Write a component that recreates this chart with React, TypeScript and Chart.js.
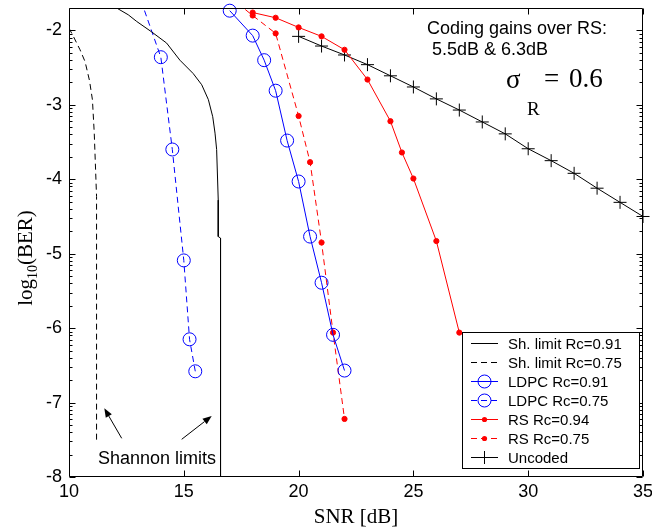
import React, { useEffect, useRef } from 'react';
import { Chart, registerables } from 'chart.js';

Chart.register(...registerables);

// ---- axes ----
const X_MIN = 10;
const X_MAX = 35;
const Y_MIN = -8;
const Y_MAX = Math.log10(0.02);
const X_TICKS = [10, 15, 20, 25, 30, 35];
const Y_TICKS = [-8, -7, -6, -5, -4, -3, -2];

// ---- series: SNR [dB] and log10(BER) ----
const SH091_SNR = [12.08, 12.58, 12.95, 13.6, 14.25, 14.83, 15.41, 15.78, 16.07, 16.26, 16.36, 16.43, 16.5, 16.5, 16.6, 16.6];
const SH091_LOGBER = [-1.7, -1.79, -1.88, -2.02, -2.17, -2.4, -2.58, -2.73, -2.93, -3.16, -3.38, -3.6, -4.28, -4.77, -4.79, -8.0];

const SH075_SNR = [10.0, 10.19, 10.48, 10.7, 10.89, 11.02, 11.1, 11.2, 11.2];
const SH075_LOGBER = [-1.97, -2.08, -2.26, -2.42, -2.67, -2.93, -3.38, -4.23, -7.55];

const LDPC091_SNR = [17, 18, 18.5, 19, 19.5, 20, 20.5, 21, 21.5, 22];
const LDPC091_LOGBER = [-1.735, -2.07, -2.4, -2.81, -3.48, -4.03, -4.77, -5.39, -6.09, -6.57];

const LDPC075_SNR = [13, 14, 14.5, 15, 15.25, 15.5];
const LDPC075_LOGBER = [-1.48, -2.36, -3.6, -5.09, -6.15, -6.58];

const RS094_SNR = [18, 19, 20, 21, 22, 23, 24, 24.5, 25, 26, 27];
const RS094_LOGBER = [-1.76, -1.83, -1.96, -2.08, -2.26, -2.66, -3.22, -3.64, -3.99, -4.83, -6.06];

const RS075_SNR = [17, 18, 19, 20, 20.5, 21, 21.5, 22];
const RS075_LOGBER = [-1.55, -1.8, -2.04, -3.15, -3.77, -4.85, -6.06, -7.22];

const UNC_SNR = [20, 21, 22, 23, 24, 25, 26, 27, 28, 29, 30, 31, 32, 33, 34, 35];
const UNC_LOGBER = [-2.08, -2.21, -2.33, -2.46, -2.61, -2.76, -2.92, -3.07, -3.23, -3.39, -3.59, -3.75, -3.92, -4.12, -4.31, -4.5];

const LEGEND_LABELS = [
  'Sh. limit Rc=0.91',
  'Sh. limit Rc=0.75',
  'LDPC Rc=0.91',
  'LDPC Rc=0.75',
  'RS Rc=0.94',
  'RS Rc=0.75',
  'Uncoded',
];

const TEXT_GAINS_1 = 'Coding gains over RS:';
const TEXT_GAINS_2 = '5.5dB & 6.3dB';
const TEXT_SHANNON = 'Shannon limits';
const X_TITLE = 'SNR [dB]';

const BLUE = '#0000ff';
const RED = '#ff0000';
const BLACK = '#000000';
const DASH = [6, 4];
const SANS = '"Liberation Sans", Arial, Helvetica, sans-serif';
const SERIF = '"Liberation Serif", "Times New Roman", Times, serif';

const pts = (xs: number[], ys: number[]) => xs.map((x, i) => ({ x, y: ys[i] }));

type Marker = 'none' | 'circle' | 'dot' | 'cross';
const MARKERS: Marker[] = ['none', 'none', 'circle', 'circle', 'dot', 'dot', 'cross'];
const COLORS = [BLACK, BLACK, BLUE, BLUE, RED, RED, BLACK];
const DASHES = [[], DASH, [], DASH, [], DASH, []];

function drawMarker(ctx: CanvasRenderingContext2D, m: Marker, color: string, x: number, y: number) {
  ctx.save();
  ctx.setLineDash([]);
  ctx.strokeStyle = color;
  ctx.fillStyle = color;
  ctx.lineWidth = 1;
  if (m === 'circle') {
    ctx.beginPath();
    ctx.arc(x, y, 6.5, 0, Math.PI * 2);
    ctx.stroke();
  } else if (m === 'dot') {
    ctx.beginPath();
    ctx.arc(x, y, 2.6, 0, Math.PI * 2);
    ctx.fill();
  } else if (m === 'cross') {
    ctx.beginPath();
    ctx.moveTo(x - 6.5, y);
    ctx.lineTo(x + 6.5, y);
    ctx.moveTo(x, y - 6.5);
    ctx.lineTo(x, y + 6.5);
    ctx.stroke();
  }
  ctx.restore();
}

function arrow(ctx: CanvasRenderingContext2D, x0: number, y0: number, x1: number, y1: number) {
  const ang = Math.atan2(y1 - y0, x1 - x0);
  const len = 9;
  const hw = 3.5;
  const bx = x1 - len * Math.cos(ang);
  const by = y1 - len * Math.sin(ang);
  ctx.beginPath();
  ctx.moveTo(x0, y0);
  ctx.lineTo(bx, by);
  ctx.stroke();
  ctx.beginPath();
  ctx.moveTo(x1, y1);
  ctx.lineTo(bx + hw * Math.sin(ang), by - hw * Math.cos(ang));
  ctx.lineTo(bx - hw * Math.sin(ang), by + hw * Math.cos(ang));
  ctx.closePath();
  ctx.fill();
}

const decor = {
  id: 'decor',
  afterDraw(chart: any) {
    const { ctx, chartArea: a } = chart;
    const xs = chart.scales.x;
    const ys = chart.scales.y;
    ctx.save();
    ctx.strokeStyle = BLACK;
    ctx.fillStyle = BLACK;
    ctx.lineWidth = 1;
    ctx.setLineDash([]);
    const L = Math.round(a.left) + 0.5;
    const R = Math.round(a.right) - 0.5;
    const T = Math.round(a.top) + 0.5;
    const B = Math.round(a.bottom) - 0.5;
    ctx.beginPath();
    ctx.rect(L, T, R - L, B - T);
    ctx.stroke();

    // x ticks (inward, bottom and top)
    ctx.beginPath();
    X_TICKS.forEach((v) => {
      const px = Math.round(xs.getPixelForValue(v)) + 0.5;
      ctx.moveTo(px, B);
      ctx.lineTo(px, B - 6);
      ctx.moveTo(px, T);
      ctx.lineTo(px, T + 6);
    });
    // y major ticks
    Y_TICKS.forEach((v) => {
      const py = Math.round(ys.getPixelForValue(v)) + 0.5;
      ctx.moveTo(L, py);
      ctx.lineTo(L + 6, py);
      ctx.moveTo(R, py);
      ctx.lineTo(R - 6, py);
    });
    // y minor (log) ticks
    Y_TICKS.forEach((v) => {
      for (let m = 2; m <= 9; m++) {
        const val = v + Math.log10(m);
        if (val >= Y_MAX - 0.001) continue;
        const py = Math.round(ys.getPixelForValue(val)) + 0.5;
        ctx.moveTo(L, py);
        ctx.lineTo(L + 3, py);
        ctx.moveTo(R, py);
        ctx.lineTo(R - 3, py);
      }
    });
    ctx.stroke();

    // annotations
    ctx.textAlign = 'left';
    ctx.textBaseline = 'alphabetic';
    ctx.font = `18px ${SANS}`;
    ctx.fillText(TEXT_GAINS_1, 427, 34);
    ctx.fillText(TEXT_GAINS_2, 432, 55);
    ctx.fillText(TEXT_SHANNON, 98, 464);

    ctx.font = `27px ${SERIF}`;
    ctx.fillText('\u03c3', 506, 88);
    ctx.font = `19px ${SERIF}`;
    ctx.fillText('R', 527, 115);
    ctx.font = `27px ${SERIF}`;
    ctx.fillText('=', 544, 87);
    ctx.fillText('0.6', 569, 87);

    arrow(ctx, 121.7, 438.3, 104.3, 408.3);
    arrow(ctx, 181.7, 439.3, 211.7, 416);

    // axis titles
    ctx.font = `21px ${SERIF}`;
    ctx.textAlign = 'center';
    ctx.fillText(X_TITLE, (a.left + a.right) / 2, 523);

    ctx.save();
    ctx.translate(32, 258);
    ctx.rotate(-Math.PI / 2);
    ctx.textAlign = 'left';
    const f1 = `21px ${SERIF}`;
    const f2 = `14px ${SERIF}`;
    ctx.font = f1;
    const w1 = ctx.measureText('log').width;
    const w3 = ctx.measureText('(BER)').width;
    ctx.font = f2;
    const w2 = ctx.measureText('10').width;
    let cx = -(w1 + w2 + w3) / 2;
    ctx.font = f1;
    ctx.fillText('log', cx, 0);
    cx += w1;
    ctx.font = f2;
    ctx.fillText('10', cx, 5);
    cx += w2;
    ctx.font = f1;
    ctx.fillText('(BER)', cx, 0);
    ctx.restore();

    // legend
    const lx = 462.5, ly = 332.5, lw = 177, lh = 136;
    ctx.fillStyle = '#ffffff';
    ctx.fillRect(lx, ly, lw, lh);
    ctx.strokeStyle = BLACK;
    ctx.strokeRect(lx, ly, lw, lh);
    ctx.font = `15px ${SANS}`;
    ctx.textAlign = 'left';
    ctx.textBaseline = 'middle';
    LEGEND_LABELS.forEach((lab, i) => {
      const yy = 343.5 + i * 19;
      ctx.strokeStyle = COLORS[i];
      ctx.setLineDash(DASHES[i] as number[]);
      ctx.beginPath();
      ctx.moveTo(471, yy);
      ctx.lineTo(498, yy);
      ctx.stroke();
      ctx.setLineDash([]);
      drawMarker(ctx, MARKERS[i], COLORS[i], 484.5, yy);
      ctx.fillStyle = BLACK;
      ctx.fillText(lab, 508, yy + 1);
    });
    ctx.restore();
  },
};

const zeroPad = (s: any) => {
  s.paddingTop = 0;
  s.paddingBottom = 0;
  s.paddingLeft = 0;
  s.paddingRight = 0;
};

export default function App() {
  const ref = useRef<HTMLCanvasElement | null>(null);
  useEffect(() => {
    if (!ref.current) return;
    const lineDs = (label: string, xs: number[], ys: number[], i: number, clip: number) => {
      const m = MARKERS[i];
      return {
        label,
        data: pts(xs, ys),
        borderColor: COLORS[i],
        borderWidth: 1,
        borderDash: DASHES[i],
        tension: 0,
        fill: false,
        clip,
        pointStyle: m === 'cross' ? 'cross' : 'circle',
        pointRadius: m === 'none' ? 0 : m === 'dot' ? 2.6 : 6.5,
        pointBorderWidth: 1,
        pointBorderColor: COLORS[i],
        pointBackgroundColor: m === 'dot' ? COLORS[i] : 'rgba(0,0,0,0)',
        pointHoverRadius: 0,
      };
    };
    const chart = new Chart(ref.current, {
      type: 'line',
      data: {
        datasets: [
          lineDs(LEGEND_LABELS[0], SH091_SNR, SH091_LOGBER, 0, 0),
          lineDs(LEGEND_LABELS[1], SH075_SNR, SH075_LOGBER, 1, 0),
          lineDs(LEGEND_LABELS[2], LDPC091_SNR, LDPC091_LOGBER, 2, 8),
          lineDs(LEGEND_LABELS[3], LDPC075_SNR, LDPC075_LOGBER, 3, 0),
          lineDs(LEGEND_LABELS[4], RS094_SNR, RS094_LOGBER, 4, 0),
          lineDs(LEGEND_LABELS[5], RS075_SNR, RS075_LOGBER, 5, 0),
          lineDs(LEGEND_LABELS[6], UNC_SNR, UNC_LOGBER, 6, 8),
        ] as any,
      },
      options: {
        responsive: false,
        animation: false,
        devicePixelRatio: 1,
        events: [],
        layout: { padding: { top: 8, right: 9, left: 0, bottom: 0 } },
        plugins: { legend: { display: false }, tooltip: { enabled: false }, title: { display: false } },
        scales: {
          x: {
            type: 'linear',
            min: X_MIN,
            max: X_MAX,
            afterBuildTicks: (s: any) => {
              s.ticks = X_TICKS.map((v) => ({ value: v }));
            },
            afterFit: (s: any) => {
              s.height = 54;
              zeroPad(s);
            },
            grid: { display: false, drawTicks: false, tickLength: 0 },
            border: { display: false },
            ticks: { font: { family: SANS, size: 18 }, color: BLACK, padding: 4, maxRotation: 0, autoSkip: false },
          },
          y: {
            type: 'linear',
            min: Y_MIN,
            max: Y_MAX,
            afterBuildTicks: (s: any) => {
              s.ticks = Y_TICKS.map((v) => ({ value: v }));
            },
            afterFit: (s: any) => {
              s.width = 69;
              zeroPad(s);
            },
            grid: { display: false, drawTicks: false, tickLength: 0 },
            border: { display: false },
            ticks: { font: { family: SANS, size: 18 }, color: BLACK, padding: 7, autoSkip: false },
          },
        },
      } as any,
      plugins: [decor],
    });
    return () => chart.destroy();
  }, []);
  return (
    <div style={{ position: 'fixed', left: 0, top: 0, width: 652, height: 531, background: '#fff' }}>
      <canvas ref={ref} width={652} height={531} style={{ width: 652, height: 531, display: 'block' }} />
    </div>
  );
}
